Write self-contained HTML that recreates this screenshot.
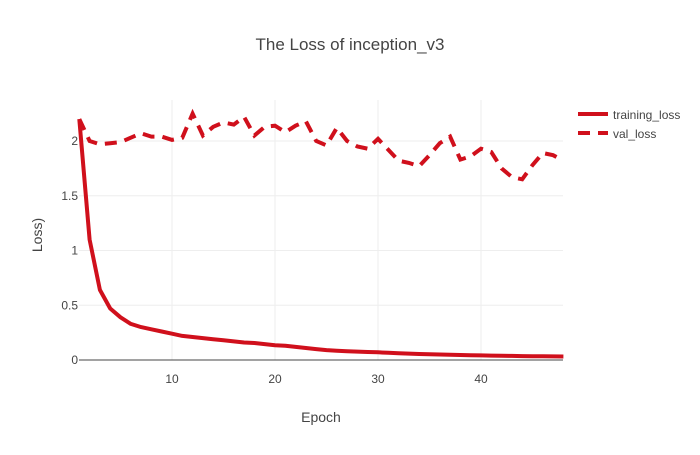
<!DOCTYPE html>
<html><head><meta charset="utf-8"><style>
body{margin:0;background:#fff;font-family:"Liberation Sans",sans-serif}
</style></head><body>
<svg width="700" height="450" xmlns="http://www.w3.org/2000/svg" font-family="Liberation Sans, sans-serif">
<text x="350" y="50" text-anchor="middle" font-size="17" fill="#444">The Loss of inception_v3</text>
<g id="grid"></g>
<g id="ticks" font-size="12" fill="#444"></g>
<g id="series"></g>
<text x="321" y="422" text-anchor="middle" font-size="14" fill="#444">Epoch</text>
<text transform="translate(42,235) rotate(-90)" text-anchor="middle" font-size="14" fill="#444">Loss)</text>
<g>
<g><line x1="578" y1="114" x2="608" y2="114" stroke="#d0101c" stroke-width="4"/><text x="613" y="119" font-size="12" fill="#444">training_loss</text></g>
<g><line x1="578" y1="133" x2="608" y2="133" stroke="#d0101c" stroke-width="4" stroke-dasharray="12,8"/><text x="613" y="138" font-size="12" fill="#444">val_loss</text></g>
</g>
</svg>
<script>
const epochs=[];for(let i=1;i<=48;i++)epochs.push(i);
const trainingLoss=[2.2,1.1,0.64,0.47,0.39,0.33,0.30,0.28,0.26,0.24,0.22,0.21,0.20,0.19,0.18,0.17,0.16,0.155,0.145,0.135,0.13,0.12,0.11,0.10,0.09,0.085,0.08,0.077,0.073,0.07,0.066,0.062,0.058,0.055,0.052,0.05,0.048,0.046,0.044,0.042,0.04,0.038,0.037,0.036,0.035,0.034,0.033,0.032];
const valLoss=[2.20,2.00,1.97,1.98,1.99,2.03,2.07,2.04,2.04,2.01,2.03,2.25,2.05,2.13,2.17,2.15,2.22,2.05,2.13,2.14,2.08,2.14,2.18,2.00,1.96,2.12,2.00,1.95,1.93,2.02,1.92,1.82,1.80,1.77,1.87,1.98,2.04,1.83,1.86,1.93,1.90,1.75,1.67,1.65,1.78,1.89,1.87,1.82];
const xTicks=[10,20,30,40];
const yTicks=[0,0.5,1,1.5,2];
const yTickLabels=["0","0.5","1","1.5","2"];
const NS="http://www.w3.org/2000/svg";
const X=v=>79.3+(v-1)*10.3;
const Y=v=>360-v*109.5;
const grid=document.getElementById('grid'),ticks=document.getElementById('ticks'),series=document.getElementById('series');
function mk(tag,attrs,parent){const e=document.createElementNS(NS,tag);for(const k in attrs)e.setAttribute(k,attrs[k]);parent.appendChild(e);return e;}
xTicks.forEach(t=>{
 const l=mk('line',{x1:X(t),x2:X(t),y1:100,y2:360,stroke:'#eee'},grid);
 
 
 const tx=mk('text',{x:X(t),y:383,'text-anchor':'middle'},ticks);tx.textContent=t;
 
 
});
yTicks.forEach((t,i)=>{
 const l=mk('line',{x1:79,x2:563,y1:Y(t),y2:Y(t),stroke:t===0?'#444':'#eee'},grid);
 
 
 const tx=mk('text',{x:79,y:Y(t)+4,'text-anchor':'end',dx:-1},ticks);tx.textContent=yTickLabels[i];
 
 
});
function path(vals){return vals.map((v,i)=>(i?'L':'M')+X(epochs[i]).toFixed(1)+','+Y(v).toFixed(1)).join('');}
const p1=mk('path',{d:path(trainingLoss),fill:'none',stroke:'#d0101c','stroke-width':4,'stroke-linejoin':'round'},series);


const p2=mk('path',{d:path(valLoss),fill:'none',stroke:'#d0101c','stroke-width':4,'stroke-dasharray':'12,8'},series);


</script>
</body></html>
